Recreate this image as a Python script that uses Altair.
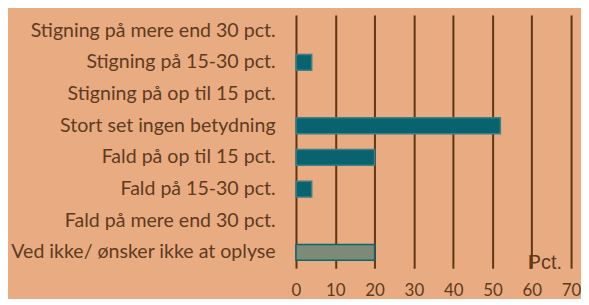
import altair as alt
import pandas as pd

categories = [
    "Stigning på mere end 30 pct.",
    "Stigning på 15-30 pct.",
    "Stigning på op til 15 pct.",
    "Stort set ingen betydning",
    "Fald på op til 15 pct.",
    "Fald på 15-30 pct.",
    "Fald på mere end 30 pct.",
    "Ved ikke/ ønsker ikke at oplyse",
]
values = [0, 4, 0, 52, 20, 4, 0, 20]
kinds = ["a", "a", "a", "a", "a", "a", "a", "b"]
x_ticks = [0, 10, 20, 30, 40, 50, 60, 70]

df = pd.DataFrame({"cat": categories, "val": values, "kind": kinds})

BG = "#e9ab81"
TXT = "#5e3b1f"
GRID = "#5e3614"
FONT = "Lato"

x_scale = alt.Scale(domain=[0, 70], nice=False)
x_axis = alt.Axis(values=x_ticks, grid=True, gridColor=GRID, gridWidth=2,
                  gridOpacity=1, domain=False, ticks=False, title=None,
                  labelFontSize=17, labelColor=TXT, labelFont=FONT,
                  labelOverlap=False, labelFlush=False,
                  labelPadding=14, labelBaseline="top")
y_enc = alt.Y("cat:N", sort=categories,
              scale=alt.Scale(domain=categories, paddingInner=0.5, paddingOuter=0.25),
              axis=alt.Axis(title=None, domain=False, ticks=False, grid=False,
                            labelFontSize=19.7, labelColor=TXT, labelFont=FONT,
                            labelPadding=21, labelLimit=400))

bars = alt.Chart(df).transform_filter("datum.val > 0").mark_bar(strokeWidth=1.5).encode(
    x=alt.X("val:Q", scale=x_scale, axis=x_axis),
    y=y_enc,
    color=alt.Color("kind:N", scale=alt.Scale(domain=["a", "b"], range=["#08636f", "#7d8a78"]), legend=None),
    stroke=alt.Stroke("kind:N", scale=alt.Scale(domain=["a", "b"], range=["#3d7f86", "#0a6670"]), legend=None),
)

label_df = pd.DataFrame({"val": [59], "t": ["Pct."]})
note = alt.Chart(label_df).mark_text(align="left", baseline="alphabetic", fontSize=20,
                                     font="Liberation Sans", color=TXT).encode(
    x=alt.X("val:Q", scale=x_scale, axis=x_axis),
    y=alt.value(256),
    text="t:N",
)

chart = alt.layer(bars, note).properties(
    width=277, height=255,
    autosize=alt.AutoSizeParams(type="none"),
    padding={"left": 290, "top": 6, "right": 10, "bottom": 30},
    background=BG,
).configure_view(stroke=None)

chart.save("out.html", embed_options={"renderer": "svg", "actions": False})
